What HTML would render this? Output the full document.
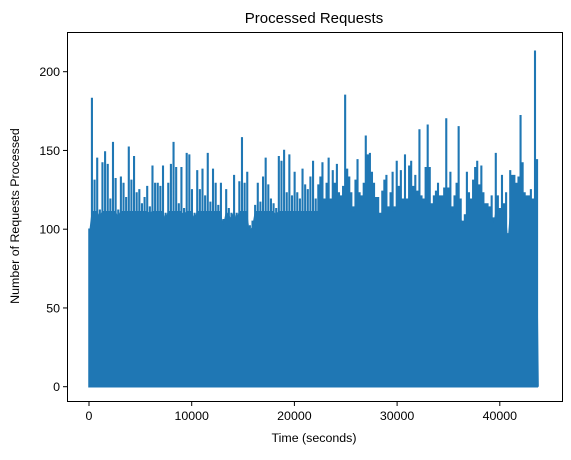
<!DOCTYPE html>
<html><head><meta charset="utf-8"><style>
body{margin:0;background:#fff;}
svg text{font-family:"Liberation Sans","DejaVu Sans",sans-serif;fill:#000;}
</style></head><body>
<svg id="chart" width="571" height="455" viewBox="0 0 571 455" xmlns="http://www.w3.org/2000/svg">
<rect width="571" height="455" fill="#fff"/>
<text x="314" y="23" font-size="15" text-anchor="middle">Processed Requests</text>
<g id="plot"></g>
<rect x="67.5" y="32.5" width="495" height="369" fill="none" stroke="#000" stroke-width="1"/>
<g id="xt"></g>
<g id="yt"></g>
<text x="314" y="442" font-size="12.4" text-anchor="middle">Time (seconds)</text>
<text transform="translate(19,216) rotate(-90)" font-size="12.4" text-anchor="middle">Number of Requests Processed</text>
</svg>
<script>
const seg1Range = [0, 22300];
const seg2Range = [22300, 43800];
const peaks1 = [100,183,131,145,112,142,149,141,119,155,132,112,133,129,120,152,131,146,123,125,116,120,127,114,140,129,129,127,140,110,129,141,155,139,116,139,113,148,147,125,110,137,125,138,121,148,117,138,129,115,129,106,125,113,110,134,110,130,158,129,136,102,105,115,129,117,133,145,128,119,116,113,146,143,150,123,147,121,136,123,119,138,128,125,133,143,119];
const peaks2 = [128,133,142,119,129,145,119,137,129,141,123,121,127,185,138,133,123,114,131,144,123,121,129,159,147,148,136,129,120,120,110,124,131,134,114,123,136,114,143,127,137,119,147,119,140,143,127,134,124,163,121,119,139,166,139,116,121,124,129,121,121,126,170,126,136,114,121,129,165,119,105,109,136,123,119,131,139,143,128,140,123,116,116,114,121,107,148,121,113,134,116,123,97,137,134,134,129,133,172,142,123,121,121,125,119,213,144];
const xTicks = [0,10000,20000,30000,40000];
const xTickLabels = ["0","10000","20000","30000","40000"];
const yTicks = [0,50,100,150,200];
const yTickLabels = ["0","50","100","150","200"];

const NS="http://www.w3.org/2000/svg";
function xs(t){return 89 + t*0.01027;}
function ys(v){return 386.7 - v*1.575;}
const plot=document.getElementById('plot');
const pts=[];
function addSeg(arr,range){
  const st=(range[1]-range[0])/arr.length;
  arr.forEach((v,i)=>pts.push([range[0]+i*st,v]));
}
addSeg(peaks1,seg1Range);
addSeg(peaks2,seg2Range);
const tEnd=seg2Range[1];
let d='M'+xs(0)+','+ys(0);
pts.forEach(([t,v])=>{
  const x=xs(t);
  d+=' L'+x.toFixed(2)+','+ys(0)+' L'+x.toFixed(2)+','+ys(v).toFixed(2)+' L'+(x+0.6).toFixed(2)+','+ys(v).toFixed(2)+' L'+(x+0.6).toFixed(2)+','+ys(0);
});
d+=' Z';
const base=document.createElementNS(NS,'path');
base.setAttribute('d',d);
base.setAttribute('fill','#1f77b4');
base.setAttribute('stroke','#1f77b4');
base.setAttribute('stroke-width','1.5');


plot.appendChild(base);
const fillPts=pts.map(([t,v])=>xs(t).toFixed(2)+','+ys(Math.min(v,115)*0.97).toFixed(2));
const fill=document.createElementNS(NS,'polygon');
fill.setAttribute('points',xs(0)+','+ys(0)+' '+fillPts.join(' ')+' '+xs(tEnd)+','+ys(0));
fill.setAttribute('fill','#1f77b4');


plot.appendChild(fill);

const xt=document.getElementById('xt');
xTicks.forEach((t,i)=>{
  const x=xs(t);
  const l=document.createElementNS(NS,'line');
  l.setAttribute('x1',x);l.setAttribute('x2',x);l.setAttribute('y1',402);l.setAttribute('y2',406);
  l.setAttribute('stroke','#000');
  
  
  xt.appendChild(l);
  const tx=document.createElementNS(NS,'text');
  tx.setAttribute('x',x);tx.setAttribute('y',420);tx.setAttribute('font-size','12.4');tx.setAttribute('text-anchor','middle');
  tx.textContent=xTickLabels[i];
  
  
  xt.appendChild(tx);
});
const yt=document.getElementById('yt');
yTicks.forEach((v,i)=>{
  const y=ys(v);
  const l=document.createElementNS(NS,'line');
  l.setAttribute('x1',63);l.setAttribute('x2',67);l.setAttribute('y1',y);l.setAttribute('y2',y);
  l.setAttribute('stroke','#000');
  
  
  yt.appendChild(l);
  const tx=document.createElementNS(NS,'text');
  tx.setAttribute('x',60);tx.setAttribute('y',y+4.5);tx.setAttribute('font-size','12.4');tx.setAttribute('text-anchor','end');
  tx.textContent=yTickLabels[i];
  
  
  yt.appendChild(tx);
});
</script>
</body></html>
